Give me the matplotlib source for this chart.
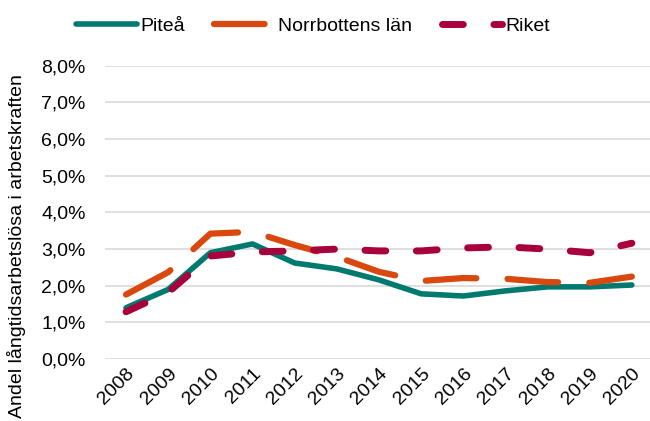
import matplotlib
matplotlib.use('Agg')
import matplotlib.pyplot as plt
from matplotlib.ticker import FuncFormatter

plt.rcParams['font.family'] = ['Liberation Sans', 'DejaVu Sans']

# data (andel i %)
years = ['2008', '2009', '2010', '2011', '2012', '2013', '2014',
         '2015', '2016', '2017', '2018', '2019', '2020']
pitea = [1.40, 1.90, 2.90, 3.14, 2.62, 2.46, 2.16, 1.78, 1.72, 1.86, 1.97, 1.97, 2.02]
norrbotten = [1.76, 2.37, 3.42, 3.47, 3.11, 2.79, 2.38, 2.13, 2.21, 2.19, 2.10, 2.08, 2.25]
riket = [1.29, 1.82, 2.81, 2.92, 2.95, 3.00, 2.95, 2.95, 3.03, 3.06, 3.00, 2.90, 3.16]
yticks = [0, 1, 2, 3, 4, 5, 6, 7, 8]

fig = plt.figure(figsize=(6.5, 4.21), dpi=100)
ax = fig.add_axes([0.1615, 0.147, 0.843, 0.697])

x = range(len(years))
ax.plot(x, pitea, color='#007A6E', lw=4, solid_capstyle='round',
        solid_joinstyle='round', label='Piteå', zorder=3)
ax.plot(x, norrbotten, color='#D9480F', lw=4.5, linestyle=(0, (8.1, 5.0)),
        dash_capstyle='round', dash_joinstyle='round', label='Norrbottens län', zorder=4)
ax.plot(x, riket, color='#A8003C', lw=5, linestyle=(0, (3.0, 4.4)),
        dash_capstyle='round', dash_joinstyle='round', label='Riket', zorder=5)

ax.set_xlim(-0.5, len(years) - 0.5)
ax.set_ylim(0, 8)
ax.set_yticks(yticks)
ax.yaxis.set_major_formatter(FuncFormatter(lambda v, p: f'{v:.1f}'.replace('.', ',') + '%'))
ax.set_xticks(list(x))
ax.set_xticklabels(years, rotation=45, ha='right', rotation_mode='anchor')
ax.tick_params(axis='both', length=0, labelsize=14, colors='#000000')
ax.tick_params(axis='y', pad=14)
ax.tick_params(axis='x', pad=4)
ax.grid(axis='y', color='#D9D9D9', lw=1.2)
ax.set_axisbelow(True)
for s in ax.spines.values():
    s.set_visible(False)

ax.set_ylabel('Andel långtidsarbetslösa i arbetskraften', fontsize=14)
ax.yaxis.set_label_coords(-0.145, 0.386)

fig.legend(loc='upper center', bbox_to_anchor=(0.482, 1.0), ncol=3, frameon=False,
           fontsize=14, handlelength=3.1, columnspacing=1.5, handletextpad=0.2)

fig.savefig('out.png', dpi=100)
